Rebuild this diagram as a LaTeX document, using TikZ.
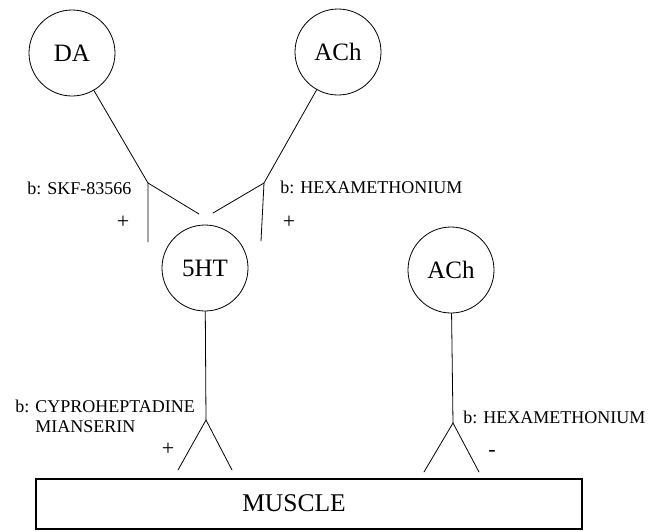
\documentclass[tikz,border=0pt]{standalone}
\usepackage{fontspec}
\setmainfont{Liberation Serif}
\usetikzlibrary{arrows}

\tikzset{
  cell/.style={draw, circle, minimum size=86pt, inner sep=0pt, font=\fontsize{25}{28}\selectfont},
  drug/.style={inner sep=0pt, anchor=west, align=left, font=\fontsize{18}{19.5}\selectfont},
  sign/.style={inner sep=0pt, font=\fontsize{22}{24}\selectfont},
}

\begin{document}
\begin{tikzpicture}[line cap=round, line width=0.8pt, x=1pt, y=-1pt]
            \useasboundingbox (0,0) rectangle (659,531);
            \node[cell] (da) at (72,53) {DA};        %dopamine
            \node[cell] (achA) at (338,52) {ACh};    %upper ach
            \node[cell] (sht) at (205,268) {5HT};
            \node[cell] (achB) at (451,270) {ACh};   %lower ach
            \node[draw, line width=2pt, minimum width=546pt, minimum height=50pt, inner sep=0pt] (muscle) at (309,504) {};
            \node (mus) at (294,503) [font=\fontsize{25.5}{28}\selectfont, inner sep=0pt] {MUSCLE};
            % junctions
            \coordinate (ja) at (148,183);
            \coordinate (jaa) at (148,242);
            \coordinate (jab) at (199,214);
            \coordinate (jb) at (264,183);
            \coordinate (jba) at (261,241);
            \coordinate (jbb) at (213,213);
            \coordinate (jc) at (206,420);
            \coordinate (jca) at (178,470);
            \coordinate (jcb) at (232,470);
            \coordinate (jd) at (453,423);
            \coordinate (jda) at (424,472);
            \coordinate (jdb) at (479,472);
            \draw (da) -- (ja) -- (jaa);
            \draw (ja) -- (jab);
            \draw (achA) -- (jb) -- (jba);
            \draw (jb) -- (jbb);
            \draw (sht) -- (jc);
            \draw (jca) -- (jc) -- (jcb);
            \draw (achB) -- (jd);
            \draw (jda) -- (jd) -- (jdb);
            % labels
            \node[drug] (skf) at (27,188) {b: SKF-83566};
            \node[sign] (pa) at (123,222) {+};
            \node[drug] (hexA) at (280,187) {b: HEXAMETHONIUM};
            \node[sign] (pb) at (289,222) {+};
            \node[drug] (cyp) at (15,416.5) {b: CYPROHEPTADINE\\\phantom{b: }MIANSERIN};
            \node[sign] (pc) at (168,449) {+};
            \node[drug] (hexB) at (463,417) {b: HEXAMETHONIUM};
            \node[sign] (mb) at (492,453) {-};
            \end{tikzpicture}
\end{document}
